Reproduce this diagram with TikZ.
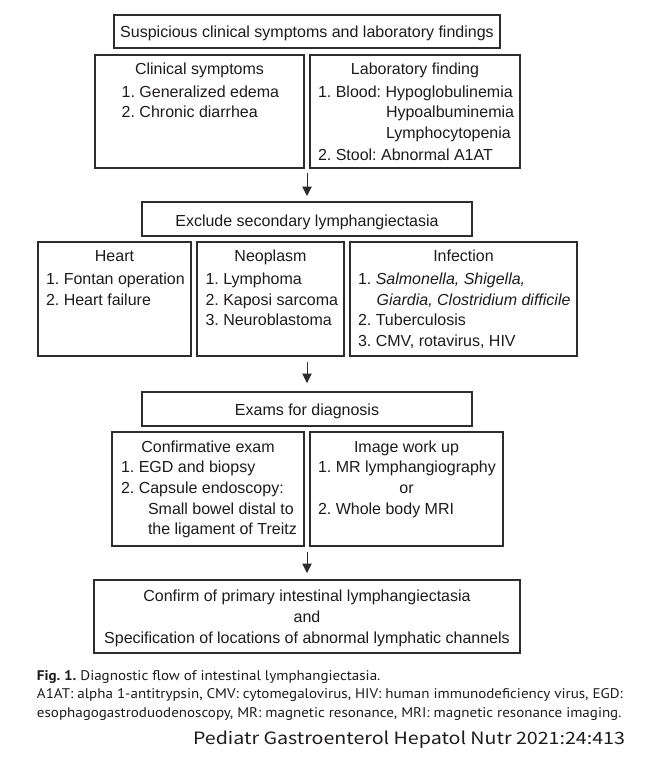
\documentclass[tikz,border=0pt]{standalone}
\usepackage{fontspec}
\usepackage{graphicx}
\setmainfont{Liberation Sans}[Ligatures={TeX,NoCommon}]
\newfontfamily\capfont{PT Sans}
\newfontfamily\jfont{Noto Sans CJK KR}
\usetikzlibrary{arrows.meta,fit}
\definecolor{ink}{RGB}{30,27,28}
\definecolor{frame}{RGB}{45,45,45}
\frenchspacing
\newlength\capw
\AtBeginDocument{\frenchspacing\settowidth{\capw}{\capfont\fontsize{14}{17}\selectfont A1AT: alpha 1-antitrypsin, CMV: cytomegalovirus, HIV: human immunodeficiency virus, EGD:}\global\capw=\capw}
\begin{document}
\begin{tikzpicture}[x=1pt,y=-1pt,
  box/.style={draw=frame, line width=1.3pt, inner sep=0pt, outer sep=0pt},
  txt/.style={inner sep=0pt, outer sep=0pt, text=ink, font=\fontsize{16}{19}\selectfont\frenchspacing},
  lt/.style={txt, anchor=base west},
  ct/.style={txt, anchor=base},
  captxt/.style={inner sep=0pt, outer sep=0pt, text=ink, anchor=base west, font=\frenchspacing},
  arr/.style={draw=frame, line width=1pt, -{Triangle[length=9.5pt,width=9.5pt]}}]
\useasboundingbox (0,0) rectangle (647,758);
\fill[white] (0,0) rectangle (647,758);
% ---------- boxes ----------
\node[box, fit={(114,15) (500,48)}] (top) {};
\node[box, fit={(95,55) (304,168)}] (clin) {};
\node[box, fit={(310,55) (520,168)}] (lab) {};
\node[box, fit={(142,202) (472,236)}] (excl) {};
\node[box, fit={(38,242) (191,356)}] (heart) {};
\node[box, fit={(197,242) (344,356)}] (neo) {};
\node[box, fit={(350,242) (577,356)}] (inf) {};
\node[box, fit={(142,392) (472,426)}] (exams) {};
\node[box, fit={(112,432) (304,546)}] (conf) {};
\node[box, fit={(310,432) (503,546)}] (img) {};
\node[box, fit={(94,580) (520,653)}] (final) {};
% ---------- arrows ----------
\coordinate (a1) at (307,173);
\coordinate (a2) at (307,362);
\coordinate (a3) at (307,552);
\draw[arr, shorten >=6pt] (a1) -- (a1 |- excl.north);
\draw[arr, shorten >=9pt] (a2) -- (a2 |- exams.north);
\draw[arr, shorten >=7pt] (a3) -- (a3 |- final.north);
% ---------- texts ----------
\node[ct] (ttop) at (307,37.3) {Suspicious clinical symptoms and laboratory findings};
\node[ct] (tclin) at (199.5,74.5) {Clinical symptoms};
\node[lt] (tclin1) at (121.7,97.5) {1. Generalized edema};
\node[lt] (tclin2) at (121.7,117.5) {2. Chronic diarrhea};
\node[ct] (tlab) at (415,74.5) {Laboratory finding};
\node[lt] (tlab1) at (318,97.5) {1. Blood: Hypoglobulinemia};
\node[lt] (tlab2) at (386,117.5) {Hypoalbuminemia};
\node[lt] (tlab3) at (386,138.5) {Lymphocytopenia};
\node[lt] (tlab4) at (318,160) {2. Stool: Abnormal A1AT};
\node[ct] (texcl) at (307,226) {Exclude secondary lymphangiectasia};
\node[ct] (theart) at (114.5,261.5) {Heart};
\node[lt] (theart1) at (46,284.5) {1. Fontan operation};
\node[lt] (theart2) at (46,305) {2. Heart failure};
\node[ct] (tneo) at (270.5,261.5) {Neoplasm};
\node[lt] (tneo1) at (205.5,284.5) {1. Lymphoma};
\node[lt] (tneo2) at (205.5,305) {2. Kaposi sarcoma};
\node[lt] (tneo3) at (205.5,325.5) {3. Neuroblastoma};
\node[ct] (tinf) at (463.5,261.5) {Infection};
\node[lt] (tinf1) at (358,284.5) {1. \textit{Salmonella, Shigella,}};
\node[lt] (tinf1b) at (376.7,305) {\textit{Giardia, Clostridium difficile}};
\node[lt] (tinf2) at (358,325.5) {2. Tuberculosis};
\node[lt] (tinf3) at (358,346) {3. CMV, rotavirus, HIV};
\node[ct] (texams) at (307,415) {Exams for diagnosis};
\node[ct] (tconf) at (208,452.5) {Confirmative exam};
\node[lt] (tconf1) at (121,472.5) {1. EGD and biopsy};
\node[lt] (tconf2) at (121,493.5) {2. Capsule endoscopy:};
\node[lt] (tconf3) at (148,514) {Small bowel distal to};
\node[lt] (tconf4) at (148,534.5) {the ligament of Treitz};
\node[ct] (timg) at (406.5,452.5) {Image work up};
\node[lt] (timg1) at (318,472.5) {1. MR lymphangiography};
\node[ct] (timg2) at (406.5,493.5) {or};
\node[lt] (timg3) at (318,514) {2. Whole body MRI};
\node[ct] (tfin1) at (307,601) {Confirm of primary intestinal lymphangiectasia};
\node[ct] (tfin2) at (307,622) {and};
\node[ct] (tfin3) at (307,643) {Specification of locations of abnormal lymphatic channels};
% ---------- caption ----------
\pgfmathsetmacro{\capsc}{586pt/\capw}
\node[captxt] (cap1) at (37,680) {\scalebox{\capsc}[1]{\capfont\fontsize{14}{17}\selectfont\textbf{Fig. 1.} Diagnostic flow of intestinal lymphangiectasia.}};
\node[captxt] (cap2) at (37,698) {\scalebox{\capsc}[1]{\capfont\fontsize{14}{17}\selectfont A1AT: alpha 1-antitrypsin, CMV: cytomegalovirus, HIV: human immunodeficiency virus, EGD:}};
\node[captxt] (cap3) at (37,717) {\scalebox{\capsc}[1]{\capfont\fontsize{14}{17}\selectfont esophagogastroduodenoscopy, MR: magnetic resonance, MRI: magnetic resonance imaging.}};
\node[captxt] (jref) at (193,744.3) {\resizebox{432pt}{\height}{\jfont\fontsize{17}{20}\selectfont Pediatr Gastroenterol Hepatol Nutr 2021:24:413}};
\end{tikzpicture}
\end{document}
